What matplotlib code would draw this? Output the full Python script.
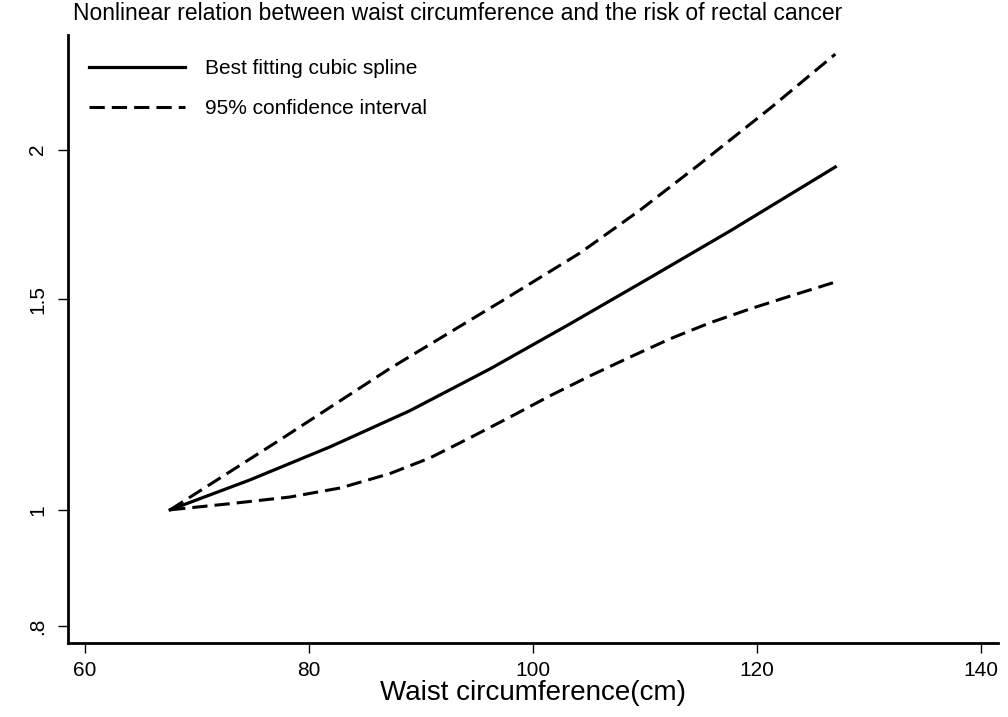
import matplotlib
matplotlib.use("Agg")
import matplotlib.pyplot as plt
from matplotlib.ticker import FixedLocator, FixedFormatter, NullLocator

plt.rcParams['font.family'] = ['Liberation Sans', 'DejaVu Sans']

# Best fitting cubic spline
waist_fit = [67.6, 74.7, 81.9, 89.0, 96.2, 103.3, 110.4, 117.6, 127.0]
spline = [1.000, 1.059, 1.129, 1.210, 1.312, 1.430, 1.562, 1.710, 1.934]

# Upper 95% CI
waist_up = [67.6, 77.4, 87.2, 97.1, 104.2, 109.6, 114.9, 121.2, 127.0]
upper = [1.000, 1.144, 1.312, 1.492, 1.639, 1.781, 1.945, 2.166, 2.403]

# Lower 95% CI
waist_low = [67.6, 73.0, 78.3, 82.8, 87.2, 90.8, 94.4, 98.0, 101.5, 105.1,
             108.7, 112.2, 115.8, 119.4, 123.0, 127.0]
lower = [1.000, 1.012, 1.025, 1.043, 1.072, 1.105, 1.149, 1.196, 1.245, 1.294,
         1.342, 1.389, 1.433, 1.472, 1.509, 1.550]

x_ticks = [60, 80, 100, 120, 140]
y_ticks = [0.8, 1, 1.5, 2]
y_tick_labels = ['.8', '1', '1.5', '2']

W, H = 1008, 717
fig = plt.figure(figsize=(W / 100, H / 100), dpi=100)
ax = fig.add_axes([68 / W, 1 - 643 / H, (997.7 - 68) / W, (643 - 35) / H])

ax.plot(waist_fit, spline, color='black', lw=2.3, label='Best fitting cubic spline')
ax.plot(waist_up, upper, color='black', lw=2.2, dashes=(5.0, 2.3),
        label='95% confidence interval')
ax.plot(waist_low, lower, color='black', lw=2.2, dashes=(5.0, 2.3))

ax.set_yscale('log')
ax.set_xlim(58.48, 141.5)
ax.set_ylim(0.774, 2.493)
ax.yaxis.set_major_locator(FixedLocator(y_ticks))
ax.yaxis.set_major_formatter(FixedFormatter(y_tick_labels))
ax.yaxis.set_minor_locator(NullLocator())
ax.set_xticks(x_ticks)

for s in ['top', 'right']:
    ax.spines[s].set_visible(False)
for s in ['left', 'bottom']:
    ax.spines[s].set_linewidth(2.0)

ax.tick_params(axis='both', direction='out', length=7, width=1, labelsize=15)
ax.tick_params(axis='y', pad=8)
ax.tick_params(axis='x', pad=6)
for lab in ax.get_yticklabels():
    lab.set_rotation(90)
    lab.set_va('center')

ax.set_xlabel('Waist circumference(cm)', fontsize=20, labelpad=0)

ax.legend(loc='upper left', frameon=False, fontsize=15, handlelength=4.6,
          handletextpad=0.95, labelspacing=1.0, borderpad=0, borderaxespad=0,
          bbox_to_anchor=(89 / W, 1 - 59 / H), bbox_transform=fig.transFigure)

fig.text(73 / W, 1 - 14 / H,
         'Nonlinear relation between waist circumference and the risk of rectal cancer',
         fontsize=16.5, ha='left', va='center')

fig.savefig('out.png', dpi=100)
